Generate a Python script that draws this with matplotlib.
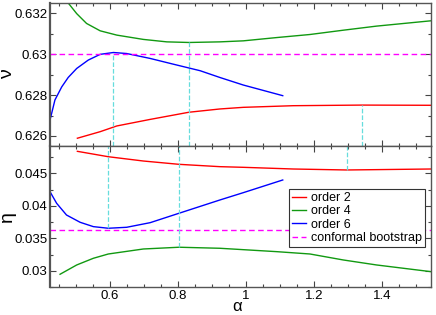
import matplotlib
matplotlib.use("Agg")
import matplotlib.pyplot as plt
from matplotlib.ticker import MultipleLocator, FormatStrFormatter

plt.rcParams['font.family'] = ['Liberation Sans', 'DejaVu Sans']

# nu, order 2 / 4 / 6
a_nu2 = [0.504, 0.571, 0.62, 0.718, 0.832, 0.923, 0.992, 1.139, 1.34, 1.544]
nu2 = [0.62589, 0.62621, 0.62649, 0.62681, 0.62716, 0.62732, 0.6274, 0.62748, 0.62751, 0.6275]

a_nu4 = [0.45, 0.477, 0.502, 0.531, 0.571, 0.62, 0.698, 0.767, 0.832, 0.923,
         0.992, 1.09, 1.188, 1.286, 1.384, 1.544]
nu4 = [0.6334, 0.6325, 0.63198, 0.6315, 0.63114, 0.63093, 0.63072, 0.6306, 0.63057, 0.6306,
       0.63065, 0.63081, 0.63096, 0.63117, 0.63137, 0.63163]

a_nu6 = [0.4235, 0.438, 0.458, 0.477, 0.502, 0.536, 0.571, 0.61, 0.649, 0.718,
         0.786, 0.865, 0.923, 0.992, 1.108]
nu6 = [0.62678, 0.62776, 0.6284, 0.62886, 0.6293, 0.62971, 0.62999, 0.63008, 0.63003, 0.62979,
       0.62951, 0.62919, 0.62886, 0.62849, 0.62797]

# eta, order 2 / 4 / 6
a_eta2 = [0.504, 0.595, 0.698, 0.803, 0.923, 0.992, 1.139, 1.296, 1.544]
eta2 = [0.04838, 0.04755, 0.04689, 0.04638, 0.04602, 0.04592, 0.04566, 0.04551, 0.04566]

a_eta4 = [0.453, 0.502, 0.551, 0.595, 0.698, 0.803, 0.923, 1.09, 1.188, 1.286, 1.384, 1.544]
eta4 = [0.02946, 0.03089, 0.03192, 0.03258, 0.03335, 0.03362, 0.03346, 0.03294, 0.03258,
        0.03166, 0.03089, 0.02986]

a_eta6 = [0.4235, 0.443, 0.472, 0.512, 0.551, 0.595, 0.649, 0.718, 0.803, 0.923, 0.992, 1.108]
eta6 = [0.04217, 0.04038, 0.03858, 0.03746, 0.03679, 0.03654, 0.03669, 0.0374, 0.03885,
        0.04089, 0.04202, 0.04397]

# conformal bootstrap values
nu_cb = 0.62999
eta_cb = 0.03631

# stationary points (alpha, value) marked with dashed verticals
nu_opt_a = [0.61, 0.832, 1.34]
nu_opt_v = [0.63008, 0.63057, 0.62751]
eta_opt_a = [0.595, 0.803, 1.296]
eta_opt_v = [0.03654, 0.03362, 0.04551]

fig = plt.figure(figsize=(4.36, 3.15), dpi=100)
ax1 = fig.add_axes([0.1147, 0.5365, 0.8738, 0.454])
ax2 = fig.add_axes([0.1147, 0.0889, 0.8738, 0.4476])

cyan = '#66dddd'
lw = 1.0

ax1.plot(a_nu2, nu2, color='red', lw=lw)
ax1.plot(a_nu4, nu4, color='#119911', lw=lw)
ax1.plot(a_nu6, nu6, color='blue', lw=lw)
ax1.axhline(nu_cb, color='magenta', ls='--', lw=lw, dashes=(4, 2.5))
ax1.set_ylim(0.62551, 0.6325)
ax1.vlines(nu_opt_a, 0.62551, nu_opt_v, colors=cyan, linestyles='--', lw=0.9)

ax2.plot(a_eta2, eta2, color='red', lw=lw, label='order 2')
ax2.plot(a_eta4, eta4, color='#119911', lw=lw, label='order 4')
ax2.plot(a_eta6, eta6, color='blue', lw=lw, label='order 6')
ax2.axhline(eta_cb, color='magenta', ls='--', lw=lw, dashes=(4, 2.5), label='conformal bootstrap')
ax2.set_ylim(0.0275, 0.0492)
ax2.vlines(eta_opt_a, eta_opt_v, 0.0492, colors=cyan, linestyles='--', lw=0.9)

for ax in (ax1, ax2):
    ax.set_xlim(0.4235, 1.544)
    ax.xaxis.set_major_locator(MultipleLocator(0.2))
    ax.xaxis.set_minor_locator(MultipleLocator(0.05))
    ax.xaxis.set_major_formatter(FormatStrFormatter('%g'))
    ax.yaxis.set_major_formatter(FormatStrFormatter('%g'))
    ax.tick_params(which='both', direction='in', top=True, right=True, labelsize=9.5,
                   color='#444444', pad=2)
    ax.tick_params(which='major', length=4, width=0.8)
    ax.tick_params(which='minor', length=2.5, width=0.8)
    for s in ax.spines.values():
        s.set_color('#555555')
        s.set_linewidth(1.0)
    ax.spines['left'].set_linewidth(1.6)

ax1.yaxis.set_major_locator(MultipleLocator(0.002))
ax1.yaxis.set_minor_locator(MultipleLocator(0.001))
ax1.tick_params(labelbottom=False)
ax2.yaxis.set_major_locator(MultipleLocator(0.005))
ax2.yaxis.set_minor_locator(MultipleLocator(0.0025))

ax1.set_ylabel('ν', fontsize=14)
ax2.set_ylabel('η', fontsize=14)
ax2.set_xlabel('α', fontsize=12, va='baseline')
ax1.yaxis.set_label_coords(-0.09, 0.5)
ax2.yaxis.set_label_coords(-0.09, 0.5)
ax2.xaxis.set_label_coords(0.492, -0.167)

leg = ax2.legend(loc='upper right', bbox_to_anchor=(0.985, 0.695), fontsize=9,
                 handlelength=1.1, handletextpad=0.4, labelspacing=0.1,
                 borderpad=0.25, borderaxespad=0, fancybox=False, framealpha=1)
leg.get_frame().set_edgecolor('#333333')
leg.get_frame().set_linewidth(0.8)

fig.savefig('out.png', dpi=100)
